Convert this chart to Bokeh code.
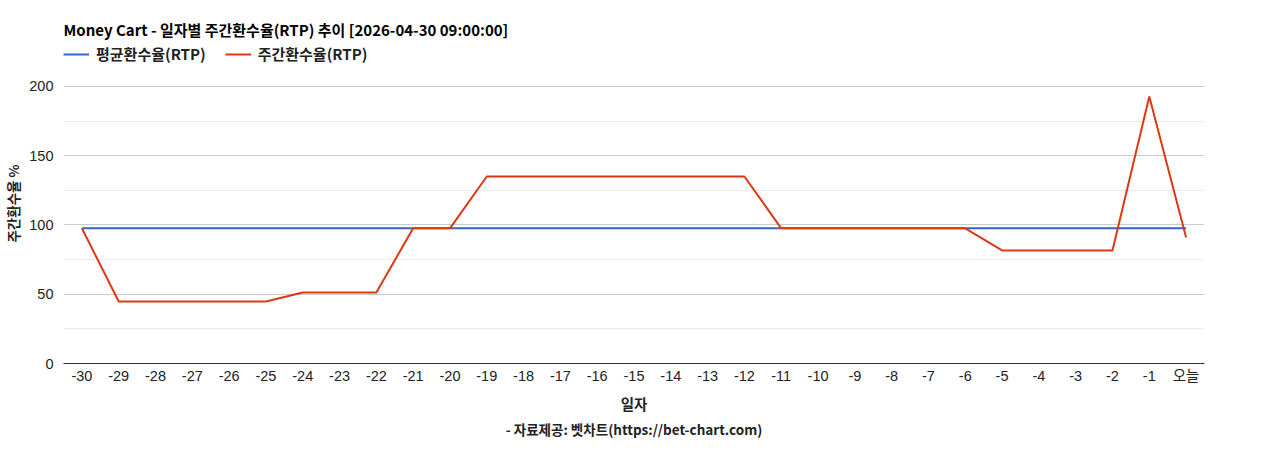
from bokeh.plotting import figure
from bokeh.models import FactorRange, Range1d, Legend, LegendItem, Title, ColumnDataSource, FixedTicker
from bokeh.embed import file_html
from bokeh.resources import INLINE

days = [str(d) for d in range(-30, 0)] + ["오늘"]
rtp = [97.6, 44.8, 44.8, 44.8, 44.8, 44.8, 51.3, 51.3, 51.3, 97.6, 97.6,
       135.0, 135.0, 135.0, 135.0, 135.0, 135.0, 135.0, 135.0,
       97.6, 97.6, 97.6, 97.6, 97.6, 97.6,
       81.6, 81.6, 81.6, 81.6, 192.8, 91.0]
avg_rtp = [97.6] * len(days)
y_ticks = [0, 50, 100, 150, 200]
y_minor_ticks = [25, 75, 125, 175]

title_text = "Money Cart - 일자별 주간환수율(RTP) 추이 [2026-04-30 09:00:00]"
source_text = "- 자료제공: 벳차트(https://bet-chart.com)"

FONT = "Liberation Sans, Noto Sans CJK KR"
KFONT = "Noto Sans CJK KR"

src = ColumnDataSource(dict(day=days, rtp=rtp, avg=avg_rtp))

# frame extended above 200 so the legend can sit inside it (ticks stop at 200)
p = figure(width=1260, height=442, x_range=FactorRange(*days, range_padding=0),
           y_range=Range1d(0, 231.0), output_backend="svg", toolbar_location=None,
           min_border_left=56, min_border_right=56, min_border_top=43, min_border_bottom=79)
p.x_range.factor_padding = 0
p.outline_line_color = None
p.background_fill_color = "white"

r_avg = p.line("day", "avg", source=src, line_color="#3366cc", line_width=2)
r_rtp = p.line("day", "rtp", source=src, line_color="#dc3912", line_width=2)

# axes
p.yaxis.ticker = FixedTicker(ticks=y_ticks, minor_ticks=y_minor_ticks)
p.yaxis.axis_line_color = None
p.yaxis.major_tick_line_color = None
p.yaxis.minor_tick_line_color = None
p.yaxis.major_tick_out = 0
p.yaxis.major_tick_in = 0
p.yaxis.minor_tick_out = 0
p.yaxis.major_label_text_font = FONT
p.yaxis.major_label_text_font_size = "14.5px"
p.yaxis.major_label_text_color = "#222222"
p.yaxis.major_label_standoff = 10
p.yaxis.axis_label = "주간환수율 %"
p.yaxis.axis_label_text_font = KFONT
p.yaxis.axis_label_text_font_style = "bold"
p.yaxis.axis_label_text_font_size = "13.5px"
p.yaxis.axis_label_text_color = "#222222"
p.yaxis.axis_label_standoff = 3

p.xaxis.axis_line_color = "#333333"
p.xaxis.major_tick_line_color = None
p.xaxis.minor_tick_line_color = None
p.xaxis.major_tick_out = 0
p.xaxis.major_tick_in = 0
p.xaxis.minor_tick_out = 0
p.xaxis.major_label_text_font = FONT
p.xaxis.major_label_text_font_size = "14.5px"
p.xaxis.major_label_text_color = "#222222"
p.xaxis.major_label_standoff = 4
p.xaxis.axis_label = "일자"
p.xaxis.axis_label_text_font = KFONT
p.xaxis.axis_label_text_font_style = "bold"
p.xaxis.axis_label_text_font_size = "14.5px"
p.xaxis.axis_label_text_color = "#222222"
p.xaxis.axis_label_standoff = 6

p.xgrid.grid_line_color = None
p.ygrid.grid_line_color = "#cccccc"
p.ygrid.minor_grid_line_color = "#ebebeb"

src_title = Title(text=source_text, align="center", text_font=KFONT, text_font_size="13.5px",
                  text_font_style="bold", text_color="#222222", offset=0, standoff=0)
p.add_layout(src_title, "below")

legend = Legend(items=[LegendItem(label="평균환수율(RTP)", renderers=[r_avg]),
                       LegendItem(label="주간환수율(RTP)", renderers=[r_rtp])],
                orientation="horizontal", location="top_left",
                label_text_font=KFONT, label_text_font_size="15px", label_text_font_style="bold",
                label_text_color="#222222", glyph_width=26, glyph_height=16, label_height=16,
                spacing=19, padding=0, margin=0, border_line_color=None,
                background_fill_alpha=0, label_standoff=7)
p.add_layout(legend, "center")

p.title.text = title_text
p.title.text_font = KFONT
p.title.text_font_size = "15px"
p.title.text_font_style = "bold"
p.title.text_color = "#000000"
p.title.align = "left"
p.title.offset = 0
p.title.standoff = 7

open("out.html", "w").write(file_html(p, INLINE))
